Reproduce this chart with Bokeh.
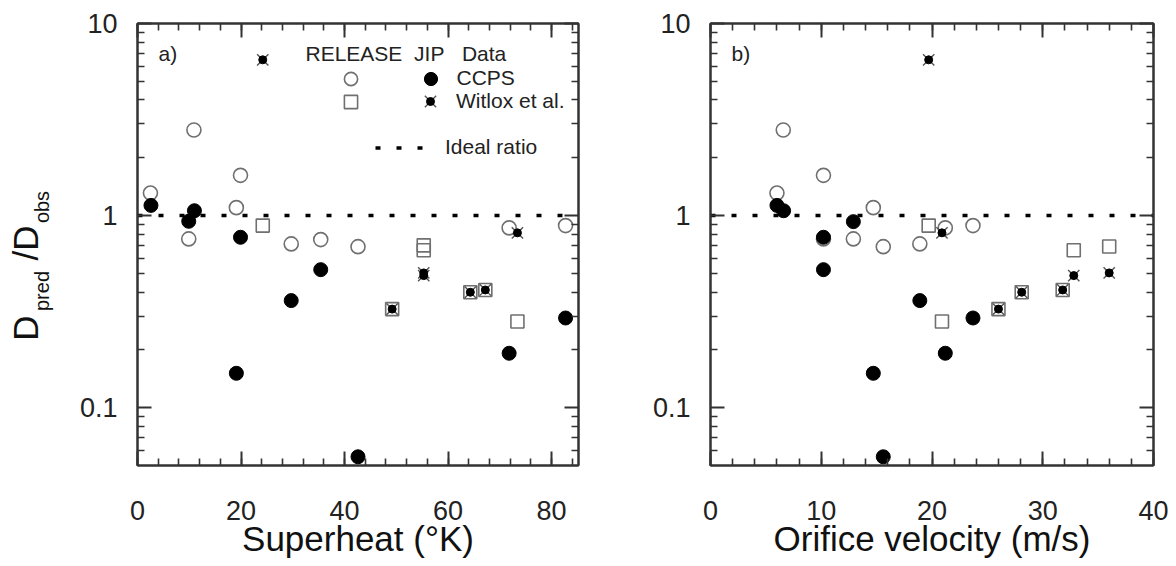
from bokeh.plotting import figure
from bokeh.models import (Range1d, Label, Legend, LegendItem, LinearAxis, LogAxis,
                          FixedTicker, SingleIntervalTicker, CustomJSTickFormatter)
from bokeh.layouts import row
from bokeh.embed import file_html
from bokeh.resources import INLINE

# ---------------- data : panel a) superheat ----------------
sh_release_circle_x = [2.5, 9.9, 10.9, 19.1, 19.9, 29.7, 35.4, 42.6, 71.8, 82.7]
sh_release_circle_y = [1.31, 0.756, 2.79, 1.10, 1.62, 0.712, 0.75, 0.689, 0.863, 0.887]
sh_release_square_x = [24.2, 49.2, 55.3, 55.3, 64.3, 67.2, 73.4]
sh_release_square_y = [0.887, 0.326, 0.70, 0.66, 0.399, 0.41, 0.281]
sh_ccps_x = [2.6, 9.9, 11.0, 19.1, 19.9, 29.7, 35.4, 42.6, 71.8, 82.7]
sh_ccps_y = [1.13, 0.934, 1.06, 0.151, 0.771, 0.361, 0.523, 0.0555, 0.192, 0.293]
sh_witlox_x = [24.2, 49.2, 55.3, 55.3, 64.3, 67.2, 73.4]
sh_witlox_y = [6.47, 0.326, 0.503, 0.487, 0.399, 0.41, 0.813]

# ---------------- data : panel b) orifice velocity ----------------
v_release_circle_x = [6.0, 6.57, 10.2, 10.2, 12.9, 14.7, 15.6, 18.9, 21.2, 23.7]
v_release_circle_y = [1.31, 2.79, 1.62, 0.756, 0.756, 1.10, 0.689, 0.712, 0.863, 0.887]
v_release_square_x = [19.7, 20.9, 26.0, 28.1, 31.8, 32.8, 36.0]
v_release_square_y = [0.887, 0.281, 0.326, 0.399, 0.41, 0.66, 0.69]
v_ccps_x = [6.0, 6.6, 10.2, 10.2, 12.9, 14.7, 15.6, 18.9, 21.2, 23.7]
v_ccps_y = [1.13, 1.06, 0.771, 0.523, 0.93, 0.151, 0.0555, 0.361, 0.192, 0.293]
v_witlox_x = [19.7, 20.9, 26.0, 28.1, 31.8, 32.8, 36.0]
v_witlox_y = [6.47, 0.813, 0.326, 0.399, 0.41, 0.487, 0.503]

ideal_ratio = 1.0

# ---------------- ticks ----------------
y_major_ticks = [0.1, 1, 10]
y_major_labels = ["0.1", "1", "10"]
y_minor_ticks = [0.06, 0.07, 0.08, 0.09, 0.2, 0.3, 0.4, 0.5, 0.6, 0.7, 0.8, 0.9,
                 2, 3, 4, 5, 6, 7, 8, 9]
sh_x_end, sh_x_step = 85.2, 20
v_x_end, v_x_step = 40, 10

FONT = "Liberation Sans"
AX = "#333333"
GREY = "#707070"
DOT = "5 16"
TOTAL_H = 563
STRIP_W = 75


def style_axis(ax, show_labels, standoff):
    ax.axis_line_color = AX
    ax.axis_line_width = 2
    ax.major_tick_line_color = AX
    ax.major_tick_line_width = 2
    ax.minor_tick_line_color = AX
    ax.minor_tick_line_width = 1.6
    ax.major_tick_in = 14
    ax.major_tick_out = 0
    ax.minor_tick_in = 7
    ax.minor_tick_out = 0
    ax.major_label_text_font = FONT
    ax.major_label_text_color = "#222222"
    ax.major_label_text_font_size = "27px"
    ax.major_label_standoff = standoff
    if not show_labels:
        ax.formatter = CustomJSTickFormatter(code="return ''")
        ax.major_label_text_font_size = "0px"
        ax.major_label_standoff = 0


def panel(x_end, x_step, fw, bl, br, title, tag,
          rcx, rcy, rsx, rsy, ccx, ccy, wx, wy):
    p = figure(frame_width=fw, frame_height=442, min_border_left=bl, min_border_right=br,
               min_border_top=23, min_border_bottom=TOTAL_H - 23 - 442,
               x_range=Range1d(0, x_end), y_range=Range1d(0.05, 10), y_axis_type="log",
               output_backend="svg", toolbar_location=None)
    p.grid.visible = False
    p.outline_line_color = AX
    p.outline_line_width = 2
    p.background_fill_color = "white"
    p.border_fill_color = "white"

    xt = SingleIntervalTicker(interval=x_step, num_minor_ticks=5)
    yt = FixedTicker(ticks=y_major_ticks, minor_ticks=y_minor_ticks)
    p.xaxis.ticker = xt
    p.yaxis.ticker = yt
    p.yaxis.major_label_overrides = dict(zip(y_major_ticks, y_major_labels))
    style_axis(p.xaxis[0], True, 35)
    style_axis(p.yaxis[0], True, 20)
    xa = p.xaxis[0]
    xa.axis_label = title
    xa.axis_label_text_font = FONT
    xa.axis_label_text_font_size = "35px"
    xa.axis_label_text_font_style = "normal"
    xa.axis_label_text_color = "#111111"
    xa.axis_label_standoff = -4
    top = LinearAxis(ticker=xt)
    right = LogAxis(ticker=yt)
    style_axis(top, False, 0)
    style_axis(right, False, 0)
    p.add_layout(top, "above")
    p.add_layout(right, "right")

    r_ideal = p.line([0, x_end], [ideal_ratio, ideal_ratio], line_color="black",
                     line_width=3.5, line_dash=DOT)
    r_sq = p.scatter(rsx, rsy, marker="square", size=13, fill_color=None,
                     line_color=GREY, line_width=1.6)
    r_circ = p.scatter(rcx, rcy, marker="circle", size=14, fill_color=None,
                       line_color=GREY, line_width=1.6)
    r_cc = p.scatter(ccx, ccy, marker="circle", size=14, fill_color="black",
                     line_color="black", line_width=1)
    r_wx = p.scatter(wx, wy, marker="x", size=16, line_color="#555555", line_width=1.4)
    r_wd = p.scatter(wx, wy, marker="circle", size=8, fill_color="black", line_color="black")

    p.add_layout(Label(x=21, y=412, x_units="screen", y_units="screen", text=tag,
                       text_align="left", text_baseline="middle",
                       text_font=FONT, text_font_size="21px", text_color="#222222"))
    return p, (r_circ, r_sq, r_cc, r_wx, r_wd, r_ideal)


p1, rs1 = panel(sh_x_end, sh_x_step, 441, 137 - STRIP_W, 10, "Superheat (°K)", "a)",
                sh_release_circle_x, sh_release_circle_y, sh_release_square_x, sh_release_square_y,
                sh_ccps_x, sh_ccps_y, sh_witlox_x, sh_witlox_y)
p2, rs2 = panel(v_x_end, v_x_step, 443, 122, 15, "Orifice velocity (m/s)", "b)",
                v_release_circle_x, v_release_circle_y, v_release_square_x, v_release_square_y,
                v_ccps_x, v_ccps_y, v_witlox_x, v_witlox_y)

# ---------------- y axis title (with subscripts) in a narrow strip ----------------
ylab = figure(frame_width=STRIP_W, frame_height=TOTAL_H, title=None, x_axis_type=None,
              y_axis_type=None, min_border=0, min_border_left=0, min_border_right=0,
              min_border_top=0, min_border_bottom=0,
              x_range=Range1d(0, 1), y_range=Range1d(0, 1),
              output_backend="svg", toolbar_location=None)
ylab.outline_line_color = None
ylab.grid.visible = False
# pieces centred on their anchor (rotation-safe)
for txt, xs, ys, fs in [("D", 24.5, 258.5, "35px"), ("pred", 41, 295.5, "20px"),
                        ("/D", 24.5, 343.5, "35px"), ("obs", 41, 379.5, "20px")]:
    ylab.add_layout(Label(x=xs, y=ys, x_units="screen", y_units="screen", text=txt,
                          angle=90, angle_units="deg", text_align="center",
                          text_baseline="middle", text_font=FONT, text_font_size=fs,
                          text_color="#111111"))

# ---------------- legend (left panel) ----------------
p1.add_layout(Label(x=168, y=412, x_units="screen", y_units="screen",
                    text="RELEASE\u00a0\u00a0JIP\u00a0\u00a0\u00a0Data", text_align="left",
                    text_baseline="middle", text_font=FONT, text_font_size="21px",
                    text_color="#222222"))

r_circ, r_sq, r_cc, r_wx, r_wd, r_ideal = rs1


def mk_legend(label, renderers, loc, gw, gh, standoff, fs="21px"):
    lg = Legend(items=[LegendItem(label=label, renderers=renderers)], location=loc,
                glyph_width=gw, glyph_height=gh, spacing=0,
                padding=0, margin=0, label_standoff=standoff, border_line_color=None,
                background_fill_alpha=0, label_text_font=FONT, label_text_font_size=fs,
                label_text_color="#222222", label_height=0, label_width=0)
    p1.add_layout(lg)
    return lg


mk_legend(" ", [r_circ], (196.5, 370.5), 33, 33, 0, "1px")
mk_legend(" ", [r_sq], (196.5, 347.5), 33, 33, 0, "1px")
mk_legend("CCPS", [r_cc], (276.5, 370.5), 33, 33, 10)
mk_legend("Witlox et al.", [r_wx], (273, 344), 40, 40, 6)
mk_legend(" ", [r_wd], (283, 354), 20, 20, 0, "1px")
mk_legend("Ideal ratio", [r_ideal], (238, 301.5), 55, 33, 15)

layout = row(ylab, p1, p2)
open("out.html", "w").write(file_html(layout, INLINE))
